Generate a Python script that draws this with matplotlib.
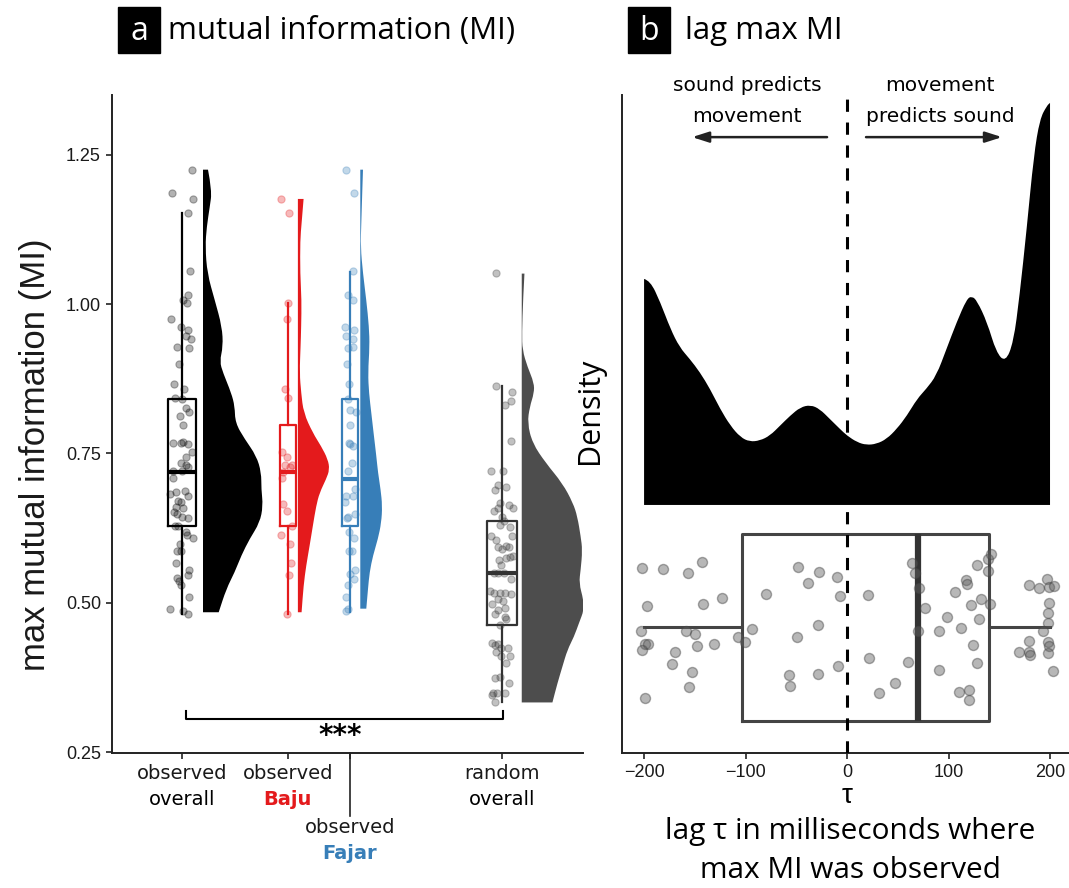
import numpy as np
import matplotlib.pyplot as plt
import matplotlib.transforms as mtransforms
from matplotlib.patches import Rectangle, PathPatch
from matplotlib.path import Path

# ---- panel a: max mutual information per condition ----
overall_mi = [1.225, 1.186, 1.176, 1.153, 1.056, 1.016, 1.007, 1.001, 0.975, 0.961,
              0.957, 0.946, 0.941, 0.928, 0.926, 0.899, 0.866, 0.858, 0.842, 0.841,
              0.826, 0.819, 0.813, 0.798, 0.767, 0.768, 0.766, 0.769, 0.752, 0.744,
              0.734, 0.730, 0.727, 0.721, 0.720, 0.708, 0.685, 0.687, 0.679, 0.682,
              0.670, 0.668, 0.660, 0.658, 0.652, 0.649, 0.642, 0.644, 0.629, 0.629,
              0.619, 0.614, 0.609, 0.598, 0.586, 0.586, 0.566, 0.555, 0.547, 0.541,
              0.537, 0.529, 0.509, 0.490, 0.486, 0.481]
overall_jit = [0.064, -0.063, 0.071, 0.040, 0.050, 0.040, 0.004, 0.033, -0.069, -0.006,
               0.035, 0.025, 0.054, -0.033, 0.042, -0.021, -0.050, 0.013, -0.044, 0.000,
               0.025, 0.046, -0.015, 0.008, -0.056, -0.008, 0.040, 0.006, 0.063, 0.023,
               -0.008, 0.025, 0.035, -0.058, 0.000, -0.054, -0.038, 0.021, 0.035, -0.077,
               -0.023, -0.006, -0.038, 0.004, -0.050, -0.029, 0.035, -0.002, -0.042, -0.027,
               0.023, 0.033, 0.071, -0.010, -0.029, -0.006, -0.038, 0.046, 0.035, -0.029,
               -0.017, -0.008, 0.042, -0.073, 0.008, 0.040]

baju_mi = [1.176, 1.153, 1.001, 0.975, 0.858, 0.842, 0.753, 0.744, 0.730, 0.730, 0.727,
           0.719, 0.708, 0.666, 0.653, 0.629, 0.614, 0.598, 0.566, 0.547, 0.481]
baju_jit = [-0.040, 0.008, 0.004, -0.006, -0.017, 0.000, -0.038, -0.006, -0.015, 0.029, 0.013,
            -0.029, -0.033, -0.031, -0.002, 0.029, -0.044, 0.015, 0.019, 0.010, -0.004]

fajar_mi = [1.225, 1.186, 1.056, 1.016, 1.007, 0.961, 0.957, 0.946, 0.941, 0.926,
            0.928, 0.899, 0.866, 0.841, 0.822, 0.819, 0.798, 0.767, 0.766, 0.762,
            0.734, 0.720, 0.690, 0.679, 0.679, 0.668, 0.644, 0.642, 0.648, 0.619,
            0.609, 0.586, 0.586, 0.548, 0.555, 0.540, 0.529, 0.509, 0.490, 0.486]
fajar_jit = [-0.025, 0.025, 0.019, -0.010, 0.021, -0.033, 0.023, -0.027, 0.021, -0.013,
             0.017, -0.019, -0.006, -0.015, 0.002, 0.035, -0.002, -0.006, 0.002, 0.021,
             0.015, -0.010, 0.031, 0.019, -0.027, -0.033, -0.013, -0.019, 0.031, -0.004,
             0.027, -0.006, 0.015, 0.002, 0.031, 0.023, -0.010, -0.025, -0.013, -0.023]

random_mi = [1.052, 0.862, 0.852, 0.838, 0.831, 0.770, 0.721, 0.721, 0.697, 0.694,
             0.688, 0.667, 0.653, 0.658, 0.664, 0.658, 0.644, 0.637, 0.630, 0.627,
             0.611, 0.611, 0.605, 0.594, 0.595, 0.593, 0.590, 0.578, 0.572, 0.574,
             0.576, 0.563, 0.550, 0.550, 0.550, 0.539, 0.519, 0.516, 0.517, 0.516,
             0.515, 0.507, 0.502, 0.497, 0.491, 0.488, 0.481, 0.476, 0.472, 0.463,
             0.433, 0.430, 0.431, 0.424, 0.424, 0.418, 0.410, 0.410, 0.399, 0.374,
             0.375, 0.365, 0.348, 0.349, 0.348, 0.345, 0.333]
random_jit = [-0.040, -0.035, 0.065, 0.056, 0.019, 0.056, -0.069, 0.004, -0.023, 0.025,
              -0.046, -0.013, -0.052, -0.027, 0.042, 0.071, 0.002, 0.015, -0.015, 0.050,
              0.065, -0.069, -0.040, -0.025, 0.023, 0.044, 0.002, 0.069, -0.019, 0.027,
              0.052, -0.008, -0.052, -0.027, 0.015, 0.056, -0.077, -0.050, -0.015, 0.019,
              0.056, -0.027, 0.006, -0.060, 0.019, -0.027, -0.042, 0.019, 0.027, -0.013,
              -0.063, -0.042, -0.025, -0.006, 0.040, -0.035, -0.004, 0.052, 0.027, -0.046,
              -0.010, 0.044, -0.056, -0.033, 0.019, -0.063, -0.046]

# half violin outlines (y, relative density)
overall_vy = [1.225, 1.190, 1.162, 1.129, 1.096, 1.051, 1.007, 0.962, 0.929, 0.904, 0.885,
              0.851, 0.829, 0.801, 0.774, 0.746, 0.718, 0.690, 0.662, 0.634, 0.607, 0.579,
              0.551, 0.523, 0.484]
overall_vd = [5, 9, 6.7, 3.7, 2.3, 4.3, 11.7, 19, 20, 16.7, 20, 28.3, 31.7, 32.3, 41.7,
              53.3, 58.3, 58.3, 60, 56.7, 46.7, 38.3, 31.7, 23.3, 15.7]
baju_vy = [1.176, 1.135, 1.107, 1.051, 1.007, 0.962, 0.929, 0.885, 0.851, 0.818, 0.784,
           0.762, 0.740, 0.723, 0.707, 0.684, 0.662, 0.629, 0.595, 0.562, 0.529, 0.484]
baju_vd = [5.7, 3.7, 2.3, 2.3, 3.7, 3.3, 2.7, 1.7, 3.3, 5.7, 15, 23.3, 30, 31.7, 28.3,
           21.7, 18.3, 15, 11.7, 8.3, 5.7, 3.7]
fajar_vy = [1.225, 1.190, 1.135, 1.096, 1.051, 1.007, 0.962, 0.929, 0.885, 0.851, 0.818,
            0.784, 0.746, 0.718, 0.690, 0.662, 0.634, 0.607, 0.579, 0.551, 0.523, 0.490]
fajar_vd = [2.7, 2, 1, 0.3, 2.7, 6, 8.7, 9.3, 7.7, 8.7, 11, 13.3, 16, 17.7, 20.3, 22,
            21, 17.7, 12.7, 9.3, 7.7, 6]
random_vy = [1.051, 1.007, 0.951, 0.923, 0.895, 0.868, 0.851, 0.828, 0.801, 0.767, 0.734,
             0.700, 0.667, 0.644, 0.611, 0.588, 0.555, 0.533, 0.505, 0.488, 0.466, 0.443,
             0.421, 0.393, 0.365, 0.333]
random_vd = [2.7, 1.3, 0.3, 0.7, 5.7, 12.3, 12.3, 8, 5.7, 10.7, 24, 40.7, 51.3, 55.7, 59,
             60.7, 59, 57.3, 61.7, 62.3, 57.3, 52.3, 45.7, 40.7, 35.7, 30.7]

# box stats: whislo, q1, median, q3, whishi
overall_box = [0.481, 0.628, 0.719, 0.841, 1.153]
baju_box = [0.481, 0.629, 0.719, 0.798, 1.001]
fajar_box = [0.484, 0.628, 0.707, 0.841, 1.054]
random_box = [0.333, 0.462, 0.549, 0.636, 0.862]

# ---- panel b: lag of max MI ----
lag_ms = [-201.6, -181.6, -156.3, -142.5, -197.4, -141.5, -123.2, -203.3, -158.6, -150.1,
          -199.3, -196.4, -202.0, -169.5, -147.5, -131.4, -172.7, -152.7, -156.0, -198.7,
          -107.7, -100.5, -93.6, -79.8, -48.0, -27.9, -38.7, -9.9, -6.9, 21.0,
          -28.6, -49.0, -57.4, -55.8, -28.3, -9.2, 22.0, 31.2, 47.3, 60.1,
          64.0, 67.3, 70.9, 76.5, 70.0, 98.2, 91.0, 112.6, 106.7, 117.2,
          117.9, 128.1, 138.6, 141.9, 138.6, 132.3, 122.2, 141.2, 130.0, 123.8,
          128.4, 91.0, 110.0, 120.5, 120.5, 179.6, 189.2, 197.0, 199.3, 203.6,
          199.3, 197.7, 197.7, 192.8, 179.6, 198.3, 199.3, 169.8, 179.6, 180.6,
          197.7, 203.0]
lag_jit = [0.281, 0.280, 0.273, 0.291, 0.224, 0.227, 0.235, 0.186, 0.186, 0.181,
           0.165, 0.165, 0.157, 0.153, 0.162, 0.166, 0.136, 0.123, 0.100, 0.083,
           0.176, 0.168, 0.189, 0.242, 0.283, 0.275, 0.258, 0.268, 0.239, 0.240,
           0.195, 0.177, 0.118, 0.102, 0.120, 0.133, 0.144, 0.091, 0.106, 0.138,
           0.289, 0.273, 0.251, 0.220, 0.186, 0.207, 0.186, 0.190, 0.244, 0.263,
           0.257, 0.285, 0.295, 0.302, 0.276, 0.234, 0.225, 0.227, 0.203, 0.164,
           0.137, 0.126, 0.093, 0.096, 0.081, 0.255, 0.251, 0.265, 0.253, 0.254,
           0.228, 0.213, 0.198, 0.185, 0.171, 0.169, 0.163, 0.154, 0.153, 0.149,
           0.152, 0.124]
dens_lag = [-200, -194, -184, -174, -165, -155, -145, -135, -125, -115, -105, -96, -86,
            -76, -66, -56, -46, -36, -27, -17, -7, 0, 10, 19, 29, 39, 49, 59, 69, 78,
            88, 98, 108, 118, 123, 128, 138, 147, 156, 164, 170, 177, 184, 190, 197, 200]
dens_val = [226, 224.3, 202.7, 176, 157.7, 146, 132.7, 116, 96, 79.3, 67.7, 63.3, 64.3,
            69.3, 79.3, 89.3, 97.7, 100, 96, 86, 76, 69.3, 62.7, 60, 61, 66, 76, 89.3,
            106, 116, 129.3, 156, 182.7, 206, 208.7, 204.3, 182.7, 152.7, 142.7, 162.7,
            209.3, 276, 349.3, 386, 399.3, 402]
lag_box = [-200, -104, 70, 140, 200]

RED = '#e41a1c'
BLUE = '#377eb8'
TICKFONT = 'Liberation Sans'
LABFONT = 'DejaVu Sans'
TITLEFONT = 'Open Sans'


def box_stats(b):
    return [dict(whislo=b[0], q1=b[1], med=b[2], q3=b[3], whishi=b[4], fliers=[])]


def smooth_area(xs, ys, base, swap=False):
    # closed area under a smooth outline (quadratic curves through the read points)
    verts = [(xs[0], base), (xs[0], ys[0])]
    codes = [Path.MOVETO, Path.LINETO]
    for i in range(1, len(xs) - 1):
        verts += [(xs[i], ys[i]), ((xs[i] + xs[i + 1]) / 2, (ys[i] + ys[i + 1]) / 2)]
        codes += [Path.CURVE3, Path.CURVE3]
    verts += [(xs[-1], ys[-1]), (xs[-1], base), (xs[0], base)]
    codes += [Path.LINETO, Path.LINETO, Path.CLOSEPOLY]
    if swap:
        verts = [(v[1], v[0]) for v in verts]
    return Path(verts, codes)


fig = plt.figure(figsize=(10.69, 8.88), dpi=100)
ax = fig.add_axes([0.1048, 0.152, 0.4406, 0.741])
ax2 = fig.add_axes([0.5819, 0.152, 0.4181, 0.741])

# ---------------- panel a ----------------
groups = [
    # pos, values, jitter, vy, vd, box, colour, violin colour, box width, violin offset, violin width
    (1.0, overall_mi, overall_jit, overall_vy, overall_vd, overall_box, 'black', 'black', 0.18, 0.131, 0.375),
    (1.66, baju_mi, baju_jit, baju_vy, baju_vd, baju_box, RED, RED, 0.10, 0.064, 0.198),
    (2.05, fajar_mi, fajar_jit, fajar_vy, fajar_vd, fajar_box, BLUE, BLUE, 0.10, 0.064, 0.1375),
    (3.0, random_mi, random_jit, random_vy, random_vd, random_box, '#333333', '#4d4d4d', 0.184, 0.123, 0.389),
]
for pos, vals, jit, vy, vd, bx, col, vcol, bw, voff, vw in groups:
    vd = np.array(vd)
    edge = pos + voff + vd / vd.max() * vw
    ax.add_patch(PathPatch(smooth_area(vy, edge, pos + voff, swap=True),
                           facecolor=vcol, lw=0, zorder=2))
    ax.bxp(box_stats(bx), positions=[pos], widths=[bw], showfliers=False,
           showcaps=False, boxprops=dict(color=col, lw=1.6),
           whiskerprops=dict(color=col, lw=1.6),
           medianprops=dict(color=col, lw=3), manage_ticks=False, zorder=2)
    ax.scatter(pos + np.array(jit), vals, s=27, color=col, alpha=0.3,
               edgecolors=col, linewidths=0.8, zorder=3)

ax.set_xlim(0.5625, 3.506)
ax.set_ylim(0.2483, 1.35)
ax.set_yticks([0.25, 0.50, 0.75, 1.00, 1.25])
ax.set_yticklabels(['0.25', '0.50', '0.75', '1.00', '1.25'], fontsize=13, family=TICKFONT,
                   color='#1a1a1a')
ax.set_xticks([1.0, 1.66, 2.05, 3.0])
ax.set_xticklabels([])
ax.tick_params(axis='both', length=4, width=1.2, color='#222222', pad=4)
for s in ['top', 'right']:
    ax.spines[s].set_visible(False)
for s in ['left', 'bottom']:
    ax.spines[s].set_linewidth(1.4)
    ax.spines[s].set_color('#222222')

trans = mtransforms.blended_transform_factory(ax.transData, ax.transAxes)
# long tick for the lower label
ax.plot([2.05, 2.05], [0, -0.0957], transform=trans, color='#222222', lw=1.2, clip_on=False)
labels_a = [
    (1.0, 'observed', 'overall', 'black', 'normal', -0.031, -0.070),
    (1.66, 'observed', 'Baju', RED, 'bold', -0.031, -0.070),
    (2.05, 'observed', 'Fajar', BLUE, 'bold', -0.1125, -0.152),
    (3.0, 'random', 'overall', 'black', 'normal', -0.031, -0.070),
]
for pos, l1, l2, c2, w2, y1, y2 in labels_a:
    ax.text(pos, y1, l1, transform=trans, ha='center', va='center', fontsize=14,
            family=LABFONT, color='#1a1a1a')
    ax.text(pos, y2, l2, transform=trans, ha='center', va='center', fontsize=14,
            family=LABFONT, color=c2, fontweight=w2)

# significance bracket
ax.plot([1.025, 1.025, 3.006, 3.006], [0.319, 0.305, 0.305, 0.319], color='black', lw=1.5)
ax.text(1.99, 0.277, '***', ha='center', va='center', fontsize=20, fontweight='bold',
        family=LABFONT)

ax.text(-0.163, 0.453, 'max mutual information (MI)', rotation=90, transform=ax.transAxes,
        ha='center', va='center', fontsize=25, family=TICKFONT, color='#1a1a1a')

# ---------------- panel b ----------------
base = 0.377
dv = np.array(dens_val)
ax2.add_patch(PathPatch(smooth_area(dens_lag, base + dv / dv.max() * 0.611, base),
                        facecolor='black', lw=0, zorder=2))
ax2.bxp([dict(whislo=lag_box[0], q1=lag_box[1], med=lag_box[2], q3=lag_box[3],
              whishi=lag_box[4], fliers=[])],
        positions=[0.191], widths=[0.285], orientation='horizontal', showfliers=False,
        showcaps=False, boxprops=dict(color='#444444', lw=2.2),
        whiskerprops=dict(color='#444444', lw=2.2),
        medianprops=dict(color='#333333', lw=4.5), manage_ticks=False, zorder=2)
ax2.scatter(lag_ms, lag_jit, s=52, color='#606060', alpha=0.45, edgecolors='#444444',
            linewidths=1.0, zorder=3)
ax2.axvline(0, color='black', lw=2.2, ls=(0, (4, 3.5)), zorder=5)

ax2.set_xlim(-221.7, 218.7)
ax2.set_ylim(0, 1)
ax2.set_yticks([])
ax2.set_xticks([-200, -100, 0, 100, 200])
ax2.set_xticklabels(['\u2212200', '\u2212100', '0', '100', '200'], fontsize=13,
                    family=TICKFONT, color='#1a1a1a')
ax2.tick_params(axis='x', length=4, width=1.2, color='#222222', pad=4)
for s in ['top', 'right']:
    ax2.spines[s].set_visible(False)
for s in ['left', 'bottom']:
    ax2.spines[s].set_linewidth(1.4)
    ax2.spines[s].set_color('#222222')

trans2 = mtransforms.blended_transform_factory(ax2.transData, ax2.transAxes)
ax2.text(0, -0.066, '\u03c4', transform=trans2, ha='center', va='center', fontsize=20,
         family=TICKFONT)
ax2.text(3, -0.120, 'lag \u03c4 in milliseconds where', transform=trans2, ha='center',
         va='center', fontsize=21.5, family=[TITLEFONT, 'DejaVu Sans'])
ax2.text(3, -0.178, 'max MI was observed', transform=trans2, ha='center',
         va='center', fontsize=21.5, family=TITLEFONT)
ax2.text(-0.0716, 0.52, 'Density', rotation=90, transform=ax2.transAxes, ha='center',
         va='center', fontsize=22, family=TITLEFONT)

# direction annotations
ax2.text(-98.5, 1.014, 'sound predicts', ha='center', va='center', fontsize=14.5,
         family=LABFONT, clip_on=False)
ax2.text(-98.5, 0.967, 'movement', ha='center', va='center', fontsize=14.5,
         family=LABFONT, clip_on=False)
ax2.text(91, 1.014, 'movement', ha='center', va='center', fontsize=14.5,
         family=LABFONT, clip_on=False)
ax2.text(92, 0.967, 'predicts sound', ha='center', va='center', fontsize=14.5,
         family=LABFONT, clip_on=False)
arrow = dict(arrowstyle='-|>,head_length=1.0,head_width=0.32', color='#222222', lw=1.8,
             shrinkA=0, shrinkB=0)
ax2.annotate('', xy=(-152.7, 0.936), xytext=(-19.7, 0.936), arrowprops=arrow)
ax2.annotate('', xy=(152.7, 0.936), xytext=(18.7, 0.936), arrowprops=arrow)

# ---------------- panel titles ----------------
for x0, w, letter, title, tx in [(118, 42, 'a', 'mutual information (MI)', 168),
                                  (628, 42, 'b', 'lag max MI', 685)]:
    fig.patches.append(Rectangle((x0 / 1069, (888 - 53) / 888), w / 1069, 46 / 888,
                                 transform=fig.transFigure, color='black'))
    fig.text((x0 + w / 2) / 1069, (888 - 31) / 888, letter, ha='center', va='center',
             color='white', fontsize=23, family=TITLEFONT)
    fig.text(tx / 1069, (888 - 31) / 888, title, ha='left', va='center', fontsize=22.5,
             family=TITLEFONT)

fig.savefig('out.png', dpi=100)
